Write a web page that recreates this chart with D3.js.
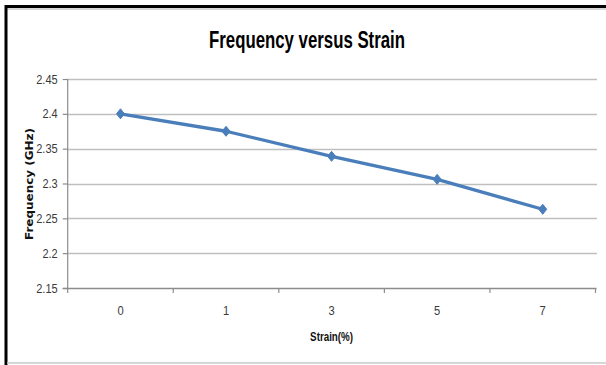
<!DOCTYPE html>
<html>
<head>
<meta charset="utf-8">
<script src="https://cdn.jsdelivr.net/npm/d3@7"></script>
<style>
  html, body { margin: 0; padding: 0; background: #fff; }
  svg { display: block; }
  text { font-family: "Liberation Sans Narrow", "Liberation Sans", Arial, sans-serif; }
</style>
</head>
<body>
<svg id="chart" width="606" height="365"></svg>
<script>
// Resonant frequency measured at each strain level
const strainLabels = ["0", "1", "3", "5", "7"];
const frequencyGHz = [2.400, 2.375, 2.339, 2.306, 2.263];
const yTickValues = [2.15, 2.2, 2.25, 2.3, 2.35, 2.4, 2.45];

const chartTitle = "Frequency versus Strain";
const xTitle = "Strain(%)";
const yTitle = "Frequency (GHz)";

const data = strainLabels.map((s, i) => ({ strain: s, freq: frequencyGHz[i] }));

const svg = d3.select("#chart");
const W = 606, H = 365;
const plot = { left: 67.7, right: 595.5, top: 79, bottom: 288 };
const gridColor = "#bfbfbf";
const axisColor = "#8c8c8c";
const seriesColor = "#4a7ebb";
const labelColor = "#3a3a3a";

// Condense a text run to a set width per glyph (digits wide, dot narrow)
function condense(sel) {
  sel.each(function () {
    const s = this.textContent;
    let w = 0;
    for (const ch of s) w += (ch === "." ? 2.9 : 6.2);
    d3.select(this).attr("textLength", w).attr("lengthAdjust", "spacingAndGlyphs");
  });
}

// Frame: heavy black top and left edges, light rule along the bottom
svg.append("rect").attr("x", 0).attr("y", 0).attr("width", W).attr("height", H).attr("fill", "#fff");
svg.append("line").attr("x1", 5).attr("x2", W).attr("y1", 6.5).attr("y2", 6.5)
  .attr("stroke", "#000").attr("stroke-width", 3);
svg.append("line").attr("x1", 5).attr("x2", W).attr("y1", 9).attr("y2", 9)
  .attr("stroke", "#b0b0b0").attr("stroke-width", 1);
svg.append("line").attr("x1", 6).attr("x2", 6).attr("y1", 5).attr("y2", H)
  .attr("stroke", "#000").attr("stroke-width", 3);
svg.append("line").attr("x1", 7).attr("x2", W).attr("y1", 363).attr("y2", 363)
  .attr("stroke", "#c8c8c8").attr("stroke-width", 1.5);

const x = d3.scaleBand().domain(strainLabels).range([plot.left, plot.right]).padding(0);
const y = d3.scaleLinear().domain([2.15, 2.45]).range([plot.bottom, plot.top]);

// Horizontal gridlines
svg.append("g").selectAll("line").data(yTickValues.slice(1)).join("line")
  .attr("x1", plot.left).attr("x2", plot.right + 1.5)
  .attr("y1", d => Math.round(y(d)) + 0.5).attr("y2", d => Math.round(y(d)) + 0.5)
  .attr("stroke", gridColor).attr("stroke-width", 1.4);

// Y axis
const yAxis = d3.axisLeft(y).tickValues(yTickValues).tickSize(5).tickPadding(5)
  .tickFormat(d => d3.format("")(+d.toFixed(2)));
const gy = svg.append("g").attr("transform", `translate(${plot.left},0)`).call(yAxis);
gy.select(".domain").attr("stroke", axisColor).attr("stroke-width", 1.2).attr("d", `M0,${plot.top}V${plot.bottom + 1}`);
gy.selectAll(".tick line").attr("stroke", axisColor).attr("stroke-width", 1.2);
gy.selectAll(".tick text").attr("fill", labelColor).style("font-size", "12.5px").call(condense);

// X axis: ticks sit on the category boundaries, labels centred in each band
const boundaries = strainLabels.map(s => x(s)).concat([plot.right]);
const gx = svg.append("g");
gx.append("line").attr("x1", plot.left - 5).attr("x2", plot.right + 1)
  .attr("y1", plot.bottom + 0.5).attr("y2", plot.bottom + 0.5)
  .attr("stroke", axisColor).attr("stroke-width", 1.4);
gx.selectAll("line.tick").data(boundaries).join("line").attr("class", "tick")
  .attr("x1", d => d).attr("x2", d => d)
  .attr("y1", plot.bottom).attr("y2", plot.bottom + 5)
  .attr("stroke", axisColor).attr("stroke-width", 1.2);
gx.selectAll("text").data(strainLabels).join("text")
  .attr("x", d => x(d) + x.bandwidth() / 2).attr("y", 315)
  .attr("text-anchor", "middle").attr("fill", labelColor)
  .style("font-size", "12.5px").text(d => d).call(condense);

// Series line and diamond markers
const line = d3.line().x(d => x(d.strain) + x.bandwidth() / 2).y(d => y(d.freq));
svg.append("path").datum(data).attr("d", line)
  .attr("fill", "none").attr("stroke", seriesColor).attr("stroke-width", 3.3)
  .attr("stroke-linejoin", "round");
svg.append("g").selectAll("path").data(data).join("path")
  .attr("transform", d => `translate(${x(d.strain) + x.bandwidth() / 2},${y(d.freq)})`)
  .attr("d", "M0,-5L4,0L0,5L-4,0Z")
  .attr("fill", seriesColor).attr("stroke", seriesColor).attr("stroke-width", 1);

// Titles
svg.append("text").attr("x", 307).attr("y", 48).attr("text-anchor", "middle")
  .attr("textLength", 196).attr("lengthAdjust", "spacingAndGlyphs")
  .style("font-size", "23px").style("font-weight", "bold").attr("fill", "#000")
  .text(chartTitle);
svg.append("text").attr("x", 331.6).attr("y", 341).attr("text-anchor", "middle")
  .attr("textLength", 43).attr("lengthAdjust", "spacingAndGlyphs")
  .style("font-size", "12px").style("font-weight", "bold").attr("fill", "#111")
  .text(xTitle);
svg.append("text").attr("transform", "translate(33,184) rotate(-90)").attr("text-anchor", "middle")
  .attr("textLength", 112).attr("lengthAdjust", "spacingAndGlyphs")
  .style("font-family", "'DejaVu Sans', Verdana, sans-serif")
  .style("font-size", "10px").style("font-weight", "bold").attr("fill", "#111")
  .text(yTitle);
</script>
</body>
</html>
